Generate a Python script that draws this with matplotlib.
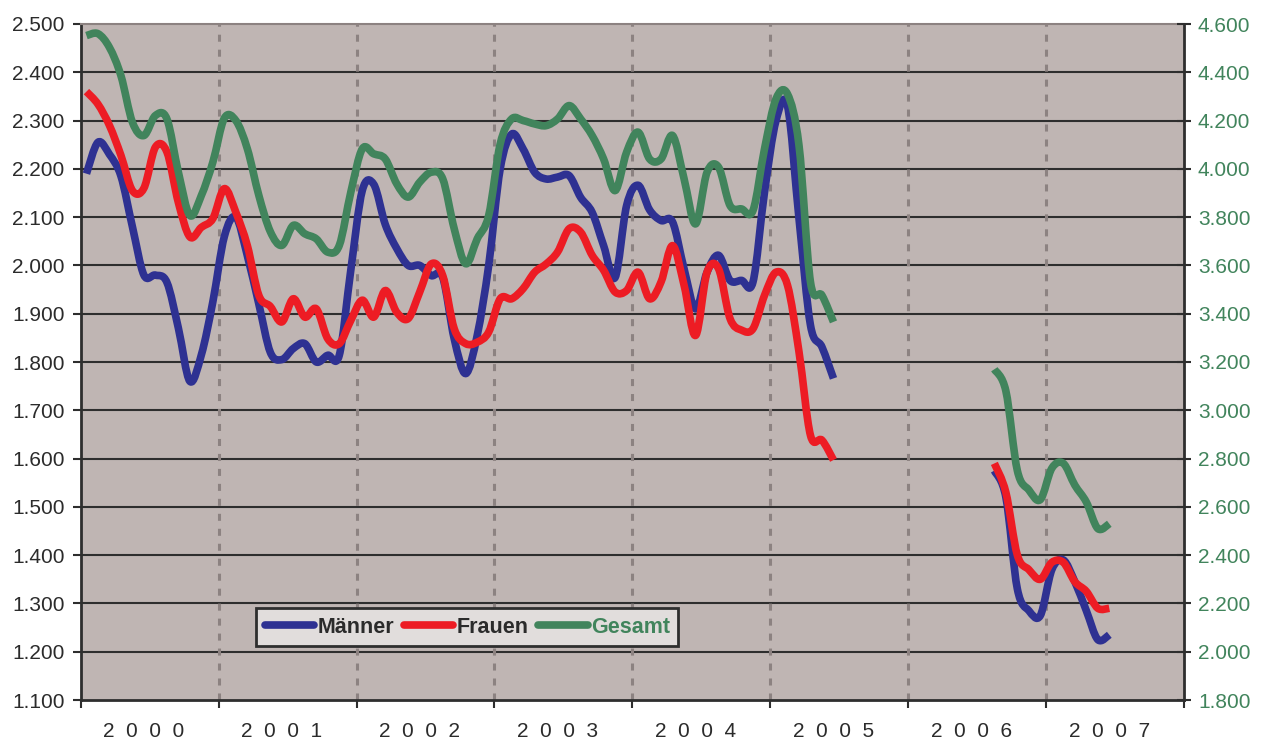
import numpy as np
import matplotlib
matplotlib.use("Agg")
import matplotlib.pyplot as plt
from matplotlib.path import Path
from matplotlib.patches import PathPatch
from matplotlib.lines import Line2D

plt.rcParams['font.family'] = ['Liberation Sans', 'DejaVu Sans']

# ---------------- data (monthly) ----------------
years = ['2000', '2001', '2002', '2003', '2004', '2005', '2006', '2007']
# segment A: Jan 2000 - Jun 2005 ; segment B: Aug 2006 - Jun 2007
start_a = (2000, 1)
start_b = (2006, 8)

maenner_a = [2.19, 2.255, 2.23, 2.185, 2.08, 1.98, 1.98, 1.965, 1.87, 1.76, 1.815, 1.925,
             2.06, 2.10, 2.02, 1.92, 1.82, 1.805, 1.828, 1.838, 1.80, 1.814, 1.814, 1.99,
             2.155, 2.168, 2.085, 2.035, 2.00, 2.00, 1.979, 1.975, 1.848, 1.776, 1.855, 2.00,
             2.20, 2.272, 2.241, 2.193, 2.179, 2.183, 2.186, 2.141, 2.11, 2.041, 1.975, 2.124,
             2.166, 2.115, 2.093, 2.09, 1.993, 1.91, 1.986, 2.021, 1.969, 1.969, 1.966, 2.152,
             2.30, 2.33, 2.097, 1.876, 1.831, 1.766]
frauen_a = [2.36, 2.334, 2.29, 2.228, 2.155, 2.16, 2.245, 2.235, 2.13, 2.059, 2.079, 2.097,
            2.159, 2.11, 2.041, 1.938, 1.915, 1.883, 1.931, 1.893, 1.91, 1.848, 1.838, 1.886,
            1.928, 1.893, 1.948, 1.903, 1.89, 1.945, 2.003, 1.979, 1.869, 1.838, 1.841, 1.862,
            1.931, 1.931, 1.952, 1.986, 2.003, 2.028, 2.076, 2.069, 2.021, 1.99, 1.945, 1.948,
            1.986, 1.931, 1.966, 2.041, 1.959, 1.855, 1.986, 1.993, 1.89, 1.866, 1.869, 1.938,
            1.986, 1.959, 1.821, 1.648, 1.638, 1.597]
gesamt_a = [4.552, 4.56, 4.503, 4.386, 4.193, 4.138, 4.221, 4.207, 3.986, 3.807, 3.89, 4.028,
            4.21, 4.2, 4.083, 3.89, 3.74, 3.683, 3.766, 3.731, 3.71, 3.655, 3.683, 3.903,
            4.083, 4.062, 4.041, 3.938, 3.883, 3.945, 3.986, 3.959, 3.752, 3.607, 3.71, 3.807,
            4.103, 4.207, 4.2, 4.186, 4.179, 4.207, 4.262, 4.207, 4.138, 4.041, 3.91, 4.069,
            4.152, 4.041, 4.041, 4.138, 3.959, 3.772, 3.986, 4.007, 3.848, 3.834, 3.828, 4.083,
            4.29, 4.31, 4.097, 3.531, 3.476, 3.366]

maenner_b = [1.575, 1.52, 1.33, 1.285, 1.275, 1.37, 1.39, 1.345, 1.285, 1.225, 1.235]
frauen_b = [1.59, 1.53, 1.40, 1.37, 1.35, 1.385, 1.385, 1.345, 1.325, 1.29, 1.29]
gesamt_b = [3.17, 3.08, 2.75, 2.67, 2.63, 2.76, 2.78, 2.69, 2.62, 2.51, 2.53]

left_ticks = [1.1, 1.2, 1.3, 1.4, 1.5, 1.6, 1.7, 1.8, 1.9, 2.0, 2.1, 2.2, 2.3, 2.4, 2.5]
right_ticks = [1.8, 2.0, 2.2, 2.4, 2.6, 2.8, 3.0, 3.2, 3.4, 3.6, 3.8, 4.0, 4.2, 4.4, 4.6]

# ---------------- styles ----------------
C_M = '#2E3192'
C_F = '#ED1C24'
C_G = '#41845C'
BG = '#BFB5B3'
GRID = '#2E2E2E'
TXT = '#2B2B2B'
LW = 5.5
FS = 15


def month_pos(start, n):
    y, m = start
    i0 = (y - 2000) * 12 + (m - 1)
    return np.arange(i0, i0 + n) + 0.5


def smooth_path(x, y):
    """Excel-like smoothed line: cubic Bezier (Catmull-Rom) through the points."""
    P = np.column_stack([x, y])
    n = len(P)
    verts = [P[0]]
    codes = [Path.MOVETO]
    for i in range(n - 1):
        p_prev = P[i - 1] if i > 0 else P[i]
        p_next2 = P[i + 2] if i + 2 < n else P[i + 1]
        c1 = P[i] + (P[i + 1] - p_prev) / 6.0
        c2 = P[i + 1] - (p_next2 - P[i]) / 6.0
        verts += [c1, c2, P[i + 1]]
        codes += [Path.CURVE4] * 3
    return Path(verts, codes)


def draw(ax, x, y, color):
    pp = PathPatch(smooth_path(x, y), facecolor='none', edgecolor=color, lw=LW,
                   capstyle='butt', joinstyle='round', zorder=5)
    ax.add_patch(pp)


fig = plt.figure(figsize=(12.65, 7.42), dpi=100)
ax = fig.add_axes([80.7 / 1265, 42 / 742, (1184 - 80.7) / 1265, 676 / 742])
ax.set_facecolor(BG)
ax.set_xlim(0, 96)
ax.set_ylim(1.1, 2.5)

ax2 = ax.twinx()
ax2.set_ylim(1.8, 4.6)

# gridlines
for v in left_ticks[1:-1]:
    ax.axhline(v, color=GRID, lw=1.5, zorder=1)
for k in range(1, 8):
    ax.axvline(k * 12, color='#8C8281', lw=2.2, dashes=(2.3, 2.6), zorder=2)

xa = month_pos(start_a, len(maenner_a))
xb = month_pos(start_b, len(maenner_b))
draw(ax, xa, maenner_a, C_M)
draw(ax, xb, maenner_b, C_M)
draw(ax, xa, frauen_a, C_F)
draw(ax, xb, frauen_b, C_F)
draw(ax2, xa, gesamt_a, C_G)
draw(ax2, xb, gesamt_b, C_G)

# axes styling
ax.set_yticks(left_ticks)
ax.set_yticklabels([f'{v:.3f}' for v in left_ticks])
ax2.set_yticks(right_ticks)
ax2.set_yticklabels([f'{v:.3f}' for v in right_ticks])
ax.set_xticks(np.arange(0, 97, 12))
ax.set_xticklabels([])
ax.set_xticks(np.arange(6, 96, 12), minor=True)
ax.set_xticklabels(['  '.join(list(y)) + '  ' for y in years], minor=True)

ax.tick_params(axis='y', direction='out', length=5.5, width=1.5, color=GRID,
               labelsize=FS, labelcolor=TXT, pad=6)
ax.tick_params(axis='x', which='major', direction='out', length=5.5, width=1.5, color=GRID)
ax.tick_params(axis='x', which='minor', length=0, labelsize=FS, labelcolor=TXT, pad=16)
ax2.tick_params(axis='y', direction='inout', length=10, width=1.5, color=GRID,
                labelsize=FS, labelcolor=C_G, pad=5)

for sp in ['left', 'bottom']:
    ax.spines[sp].set_color(GRID)
    ax.spines[sp].set_linewidth(2)
ax.spines['top'].set_color('#8C8281')
ax.spines['top'].set_linewidth(1.5)
ax.spines['right'].set_visible(False)
ax2.spines['right'].set_color(GRID)
ax2.spines['right'].set_linewidth(2)
ax2.spines['top'].set_visible(False)
ax2.spines['left'].set_visible(False)
ax2.spines['bottom'].set_visible(False)

# legend
handles = [Line2D([], [], color=C_M, lw=LW, solid_capstyle='round'),
           Line2D([], [], color=C_F, lw=LW, solid_capstyle='round'),
           Line2D([], [], color=C_G, lw=LW, solid_capstyle='round')]
leg = ax2.legend(handles, ['Männer', 'Frauen', 'Gesamt'], ncol=3,
                 loc='upper left', bbox_to_anchor=(256 / 1265, 1 - 608 / 742),
                 bbox_transform=fig.transFigure,
                 prop={'weight': 'bold', 'size': 15.5}, frameon=True, fancybox=False,
                 handlelength=2.3, handletextpad=0.15, columnspacing=0.45,
                 borderpad=0.4, borderaxespad=0)
fr = leg.get_frame()
fr.set_facecolor('#E1DDDC')
fr.set_edgecolor(GRID)
fr.set_linewidth(2)
fr.set_alpha(1)
for t, c in zip(leg.get_texts(), [TXT, TXT, C_G]):
    t.set_color(c)

fig.savefig('out.png', dpi=100)
